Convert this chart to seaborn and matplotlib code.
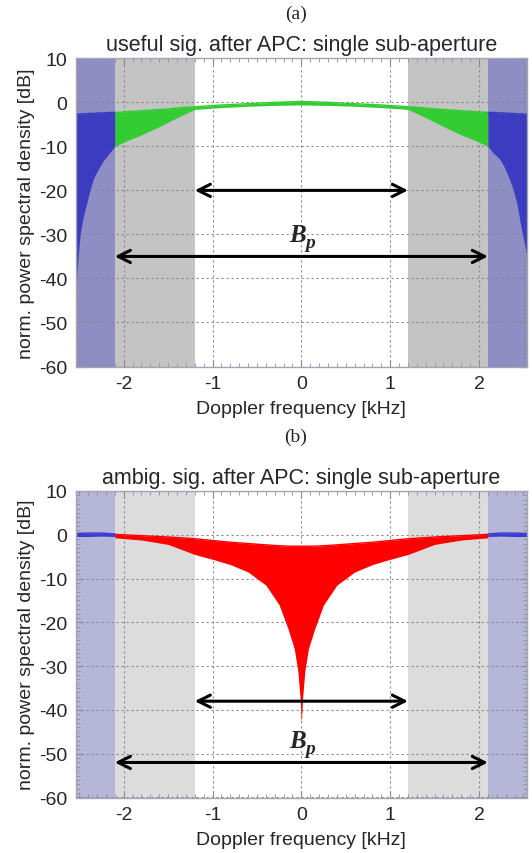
import numpy as np
import pandas as pd
import matplotlib
matplotlib.use("Agg")
import matplotlib.pyplot as plt
import seaborn as sns
from matplotlib.ticker import MultipleLocator

# ---------------- data ----------------
# panel (a): useful signal, envelope of the dense spectrum
f_green = [-2.1, -1.95, -1.8, -1.65, -1.5, -1.35, -1.2, -0.9, -0.6, -0.3, 0.0,
           0.3, 0.6, 0.9, 1.2, 1.35, 1.5, 1.65, 1.8, 1.95, 2.1]
up_green = [-2.3, -2.1, -1.9, -1.7, -1.5, -1.2, -1.0, -0.6, -0.3, 0.0, 0.2,
            0.0, -0.3, -0.6, -1.0, -1.2, -1.5, -1.7, -1.9, -2.1, -2.3]
lo_green = [-10.0, -8.6, -7.4, -6.0, -4.5, -3.0, -1.6, -1.2, -0.9, -0.7, -0.6,
            -0.7, -0.9, -1.2, -1.6, -3.0, -4.5, -6.0, -7.4, -8.6, -10.0]

f_blue_l = [-2.54, -2.52, -2.49, -2.46, -2.43, -2.38, -2.34, -2.28, -2.23, -2.16, -2.1]
up_blue_l = [-2.7, -2.7, -2.6, -2.6, -2.6, -2.5, -2.5, -2.4, -2.4, -2.3, -2.3]
lo_blue_l = [-43.0, -37.0, -30.0, -26.5, -24.0, -20.0, -17.3, -15.0, -13.3, -11.5, -10.0]

f_blue_r = [2.1, 2.16, 2.23, 2.28, 2.34, 2.38, 2.43, 2.46, 2.49, 2.52, 2.54]
up_blue_r = [-2.3, -2.3, -2.4, -2.4, -2.5, -2.5, -2.6, -2.6, -2.6, -2.7, -2.7]
lo_blue_r = [-10.0, -11.5, -12.8, -14.5, -17.3, -19.5, -23.3, -27.0, -30.0, -33.0, -35.0]

# panel (b): ambiguous signal
f_red = [-2.1, -1.8, -1.5, -1.2, -1.0, -0.8, -0.6, -0.4, -0.25, -0.15, -0.08, -0.04,
         -0.015, 0.0, 0.015, 0.04, 0.08, 0.15, 0.25, 0.4, 0.6, 0.8, 1.0, 1.2, 1.5, 1.8, 2.1]
up_red = [0.1, -0.2, -0.5, -0.9, -1.3, -1.7, -2.0, -2.3, -2.5, -2.6, -2.6, -2.6,
          -2.6, -2.6, -2.6, -2.6, -2.6, -2.6, -2.5, -2.3, -2.0, -1.7, -1.3, -0.9, -0.5, -0.2, 0.1]
lo_red = [-0.7, -1.2, -2.2, -4.5, -5.6, -6.8, -8.5, -11.5, -16.0, -21.5, -26.0, -31.0,
          -37.0, -43.0, -37.0, -31.0, -26.0, -21.5, -16.0, -11.5, -8.5, -6.8, -5.6, -4.5, -2.2, -1.2, -0.7]

f_amb_l = [-2.54, -2.4, -2.25, -2.1]
up_amb_l = [0.3, 0.4, 0.4, 0.2]
lo_amb_l = [-0.4, -0.4, -0.3, -0.4]
f_amb_r = [2.1, 2.25, 2.4, 2.54]
up_amb_r = [0.2, 0.4, 0.4, 0.3]
lo_amb_r = [-0.4, -0.3, -0.4, -0.4]

# band limits [kHz]
band_inner = 1.2
band_outer = 2.1
f_edge = 2.54

# annotations
arrow_a = [(-1.2, 1.2, -20.0), (-2.1, 2.1, -35.0)]
bp_a = -30.0
arrow_b = [(-1.2, 1.2, -38.0), (-2.1, 2.1, -52.0)]
bp_b = -47.0

x_ticks = [-2, -1, 0, 1, 2]
y_ticks = [10, 0, -10, -20, -30, -40, -50, -60]

titles = ["useful sig. after APC: single sub-aperture",
          "ambig. sig. after APC: single sub-aperture"]
panel_labels = ["(a)", "(b)"]

# ---------------- style ----------------
sns.set_style("ticks")
plt.rcParams["font.family"] = ["Liberation Sans", "DejaVu Sans"]
plt.rcParams["axes.unicode_minus"] = False

W, H = 532, 854
fig = plt.figure(figsize=(W / 100, H / 100), dpi=100)


def ax_rect(left, right, top, bottom):
    return [left / W, 1 - bottom / H, (right - left) / W, (bottom - top) / H]


ax_a = fig.add_axes(ax_rect(75.7, 527, 59.3, 367.5))
ax_b = fig.add_axes(ax_rect(75.7, 527, 492, 798.5))

grid_kw = dict(color="#8a8a8a", lw=0.8, ls=(0, (2, 2.5)), zorder=1)
serif = ["Liberation Serif", "DejaVu Serif"]


def setup(ax, blue_shade, gray_shade):
    ax.set_xlim(-f_edge, f_edge)
    ax.set_ylim(-60, 10)
    ax.axvspan(-f_edge, -band_outer, color=blue_shade, lw=0, zorder=0)
    ax.axvspan(band_outer, f_edge, color=blue_shade, lw=0, zorder=0)
    ax.axvspan(-band_outer, -band_inner, color=gray_shade, lw=0, zorder=0)
    ax.axvspan(band_inner, band_outer, color=gray_shade, lw=0, zorder=0)
    ax.set_xticks(x_ticks)
    ax.set_yticks(y_ticks)
    ax.xaxis.set_minor_locator(MultipleLocator(0.1))
    ax.yaxis.set_minor_locator(MultipleLocator(1))
    for xv in x_ticks:
        ax.axvline(xv, **grid_kw)
    for yv in y_ticks:
        ax.axhline(yv, **grid_kw)
    ax.tick_params(which="both", direction="in", top=True, right=True,
                   color="#8c8c9c", labelsize=14, pad=6)
    ax.tick_params(which="major", length=5, width=0.8)
    ax.tick_params(which="minor", length=3, width=0.6)
    for s in ax.spines.values():
        s.set_color("#a4a4b4")
        s.set_linewidth(1.0)
    ax.set_xlabel("Doppler frequency [kHz]", fontsize=14, labelpad=6)
    ax.set_ylabel("norm. power spectral density [dB]", fontsize=14, labelpad=3)


def band(ax, f, up, lo, color):
    ax.fill_between(f, lo, up, color=color, lw=0, zorder=2)
    d = pd.DataFrame({"f": f, "up": up})
    sns.lineplot(data=d, x="f", y="up", ax=ax, color=color, lw=1.0, zorder=2)


def arrows(ax, arrs, bp_y):
    for x0, x1, yv in arrs:
        ax.annotate("", xy=(x0, yv), xytext=(x1, yv),
                    arrowprops=dict(arrowstyle="<->", lw=2.2, color="black",
                                    mutation_scale=22, shrinkA=0, shrinkB=0),
                    zorder=4)
    ax.text(-0.14, bp_y, "B", fontsize=18, fontweight="bold", fontstyle="italic",
            family=serif, ha="left", va="center", zorder=4)
    ax.annotate("p", xy=(0.045, bp_y), xytext=(0, -6), textcoords="offset points",
                fontsize=14, fontweight="bold", fontstyle="italic",
                family=serif, ha="left", va="center", zorder=4)


# panel (a)
setup(ax_a, "#8e8ec4", "#c4c4c4")
band(ax_a, f_green, up_green, lo_green, "#33cc33")
band(ax_a, f_blue_l, up_blue_l, lo_blue_l, "#3c3cc0")
band(ax_a, f_blue_r, up_blue_r, lo_blue_r, "#3c3cc0")
arrows(ax_a, arrow_a, bp_a)

# panel (b)
setup(ax_b, "#b6b6d8", "#dcdcdc")
band(ax_b, f_red, up_red, lo_red, "#ff0000")
band(ax_b, f_amb_l, up_amb_l, lo_amb_l, "#3c3cd0")
band(ax_b, f_amb_r, up_amb_r, lo_amb_r, "#3c3cd0")
arrows(ax_b, arrow_b, bp_b)

for ax, t in zip([ax_a, ax_b], titles):
    ax.set_title(t, fontsize=15.5, pad=6)

fig.text(296 / W, 1 - 14 / H, panel_labels[0], ha="center", va="center",
         fontsize=14, family=serif)
fig.text(296 / W, 1 - 437 / H, panel_labels[1], ha="center", va="center",
         fontsize=14, family=serif)

fig.savefig("out.png", dpi=100)
